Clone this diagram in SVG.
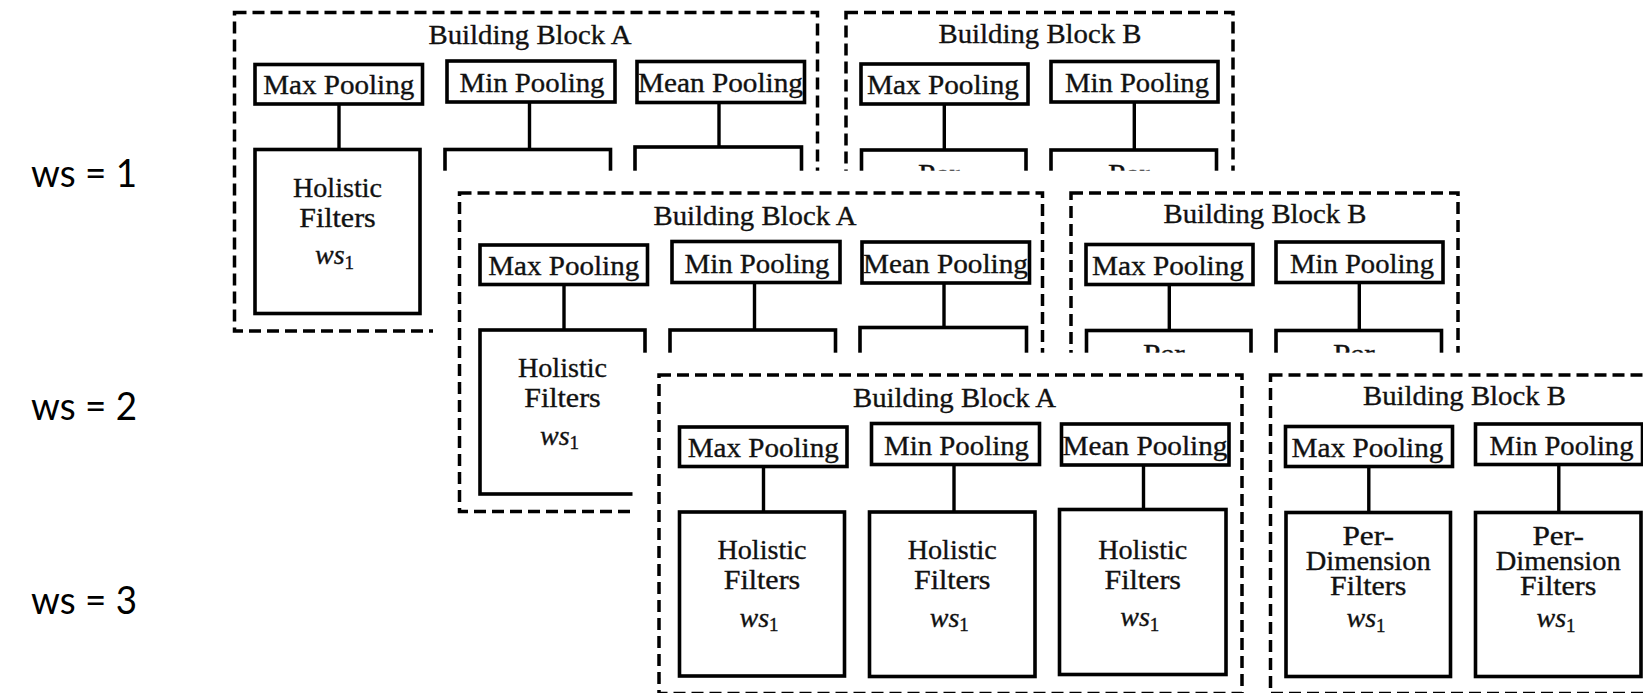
<svg xmlns="http://www.w3.org/2000/svg" width="1643" height="693" viewBox="0 0 1643 693">
  <defs>
    <style>
      .dash{fill:none;stroke:#000;stroke-width:3.5;stroke-dasharray:12 6}
      .box{fill:#fff;stroke:#000;stroke-width:3.6}
      .wire{stroke:#000;stroke-width:3.4}
      .t{font-family:"Liberation Serif","DejaVu Serif",serif;font-size:28px;fill:#111;stroke:#111;stroke-width:0.35;text-anchor:middle}
      .sub{font-size:19px;font-style:normal}
      .it{font-style:italic}
      .lbl{font-family:Lato,"Open Sans","Liberation Sans",sans-serif;font-size:38px;fill:#000}
      .sheet{fill:#fff}
    </style>
  </defs>
  <rect width="1643" height="693" fill="#fff"/>

  <!-- window-size labels -->
  <g id="labels">
    <text class="lbl" x="31" y="187" textLength="106" lengthAdjust="spacingAndGlyphs">ws = 1</text>
    <text class="lbl" x="31" y="420" textLength="106" lengthAdjust="spacingAndGlyphs">ws = 2</text>
    <text class="lbl" x="31" y="614" textLength="106" lengthAdjust="spacingAndGlyphs">ws = 3</text>
  </g>

  <!-- ===== stack for ws = 1 (back) ===== -->
  <g id="ws1">
    <g id="ws1-blockA">
      <rect class="dash" x="234.5" y="12.5" width="583" height="318.5"/>
      <text class="t" x="530" y="44" textLength="203" lengthAdjust="spacingAndGlyphs">Building Block A</text>
    </g>
    <g id="ws1-blockB">
      <rect class="dash" x="846" y="12.5" width="387" height="318.5"/>
      <text class="t" x="1040" y="42.5" textLength="203" lengthAdjust="spacingAndGlyphs">Building Block B</text>
    </g>
    <g id="ws1-links">
      <line class="wire" x1="339" y1="104" x2="339" y2="149.5"/>
      <line class="wire" x1="529.5" y1="101.5" x2="529.5" y2="149.5"/>
      <line class="wire" x1="719" y1="102" x2="719" y2="147"/>
      <line class="wire" x1="944.3" y1="104" x2="944.3" y2="150"/>
      <line class="wire" x1="1134.3" y1="102" x2="1134.3" y2="150"/>
    </g>
    <g id="ws1-a-max"><rect class="box" x="255" y="64.5" width="167.5" height="39.5"/><text class="t" x="338.75" y="94" textLength="151" lengthAdjust="spacingAndGlyphs">Max Pooling</text></g>
    <g id="ws1-a-min"><rect class="box" x="447" y="61" width="168" height="41"/><text class="t" x="532" y="92.3" textLength="145" lengthAdjust="spacingAndGlyphs">Min Pooling</text></g>
    <g id="ws1-a-mean"><rect class="box" x="637" y="61.5" width="167.5" height="41"/><text class="t" x="720.5" y="92.3" textLength="165" lengthAdjust="spacingAndGlyphs">Mean Pooling</text></g>
    <g id="ws1-a-hf1"><rect class="box" x="255" y="149.5" width="165" height="164"/>
      <text class="t" x="337.5" y="196.5" textLength="89" lengthAdjust="spacingAndGlyphs">Holistic</text>
      <text class="t" x="337.5" y="226.5" textLength="76.5" lengthAdjust="spacingAndGlyphs">Filters</text>
      <text class="t" x="334.5" y="264"><tspan class="it">ws</tspan><tspan class="sub" dy="4.5">1</tspan></text></g>
    <g id="ws1-a-hf2"><rect class="box" x="445" y="149.5" width="165.5" height="164.5"/></g>
    <g id="ws1-a-hf3"><rect class="box" x="635" y="147" width="166.5" height="165"/></g>
    <g id="ws1-b-max"><rect class="box" x="861" y="64" width="167" height="40"/><text class="t" x="943" y="94" textLength="152" lengthAdjust="spacingAndGlyphs">Max Pooling</text></g>
    <g id="ws1-b-min"><rect class="box" x="1051" y="61.5" width="167" height="40.5"/><text class="t" x="1137" y="92.3" textLength="144" lengthAdjust="spacingAndGlyphs">Min Pooling</text></g>
    <g id="ws1-b-pd1"><rect class="box" x="861.5" y="150" width="164.5" height="164"/>
      <text class="t" x="943.75" y="182.5" textLength="51.7" lengthAdjust="spacingAndGlyphs">Per-</text></g>
    <g id="ws1-b-pd2"><rect class="box" x="1051" y="150" width="165.5" height="164"/>
      <text class="t" x="1133.75" y="182.5" textLength="51.7" lengthAdjust="spacingAndGlyphs">Per-</text></g>
  </g>

  <!-- ===== stack for ws = 2 (drawn over ws = 1) ===== -->
  <g id="ws2" transform="translate(225,180.5)">
    <rect class="sheet" x="208" y="-9.8" width="1060" height="360"/>
    <g id="ws2-blockA">
      <rect class="dash" x="234.5" y="12.5" width="583" height="318.5"/>
      <text class="t" x="530" y="44" textLength="203" lengthAdjust="spacingAndGlyphs">Building Block A</text>
    </g>
    <g id="ws2-blockB">
      <rect class="dash" x="846" y="12.5" width="387" height="318.5"/>
      <text class="t" x="1040" y="42.5" textLength="203" lengthAdjust="spacingAndGlyphs">Building Block B</text>
    </g>
    <g id="ws2-links">
      <line class="wire" x1="339" y1="104" x2="339" y2="149.5"/>
      <line class="wire" x1="529.5" y1="101.5" x2="529.5" y2="149.5"/>
      <line class="wire" x1="719" y1="102" x2="719" y2="147"/>
      <line class="wire" x1="944.3" y1="104" x2="944.3" y2="150"/>
      <line class="wire" x1="1134.3" y1="102" x2="1134.3" y2="150"/>
    </g>
    <g id="ws2-a-max"><rect class="box" x="255" y="64.5" width="167.5" height="39.5"/><text class="t" x="338.75" y="94" textLength="151" lengthAdjust="spacingAndGlyphs">Max Pooling</text></g>
    <g id="ws2-a-min"><rect class="box" x="447" y="61" width="168" height="41"/><text class="t" x="532" y="92.3" textLength="145" lengthAdjust="spacingAndGlyphs">Min Pooling</text></g>
    <g id="ws2-a-mean"><rect class="box" x="637" y="61.5" width="167.5" height="41"/><text class="t" x="720.5" y="92.3" textLength="165" lengthAdjust="spacingAndGlyphs">Mean Pooling</text></g>
    <g id="ws2-a-hf1"><rect class="box" x="255" y="149.5" width="165" height="164"/>
      <text class="t" x="337.5" y="196.5" textLength="89" lengthAdjust="spacingAndGlyphs">Holistic</text>
      <text class="t" x="337.5" y="226.5" textLength="76.5" lengthAdjust="spacingAndGlyphs">Filters</text>
      <text class="t" x="334.5" y="264"><tspan class="it">ws</tspan><tspan class="sub" dy="4.5">1</tspan></text></g>
    <g id="ws2-a-hf2"><rect class="box" x="445" y="149.5" width="165.5" height="164.5"/></g>
    <g id="ws2-a-hf3"><rect class="box" x="635" y="147" width="166.5" height="165"/></g>
    <g id="ws2-b-max"><rect class="box" x="861" y="64" width="167" height="40"/><text class="t" x="943" y="94" textLength="152" lengthAdjust="spacingAndGlyphs">Max Pooling</text></g>
    <g id="ws2-b-min"><rect class="box" x="1051" y="61.5" width="167" height="40.5"/><text class="t" x="1137" y="92.3" textLength="144" lengthAdjust="spacingAndGlyphs">Min Pooling</text></g>
    <g id="ws2-b-pd1"><rect class="box" x="861.5" y="150" width="164.5" height="164"/>
      <text class="t" x="943.75" y="182.5" textLength="51.7" lengthAdjust="spacingAndGlyphs">Per-</text></g>
    <g id="ws2-b-pd2"><rect class="box" x="1051" y="150" width="165.5" height="164"/>
      <text class="t" x="1133.75" y="182.5" textLength="51.7" lengthAdjust="spacingAndGlyphs">Per-</text></g>
  </g>

  <!-- ===== stack for ws = 3 (front) ===== -->
  <g id="ws3" transform="translate(424.5,362.5)">
    <rect class="sheet" x="208" y="-9.8" width="1060" height="360"/>
    <g id="ws3-blockA">
      <rect class="dash" x="234.5" y="12.5" width="583" height="318.5"/>
      <text class="t" x="530" y="44" textLength="203" lengthAdjust="spacingAndGlyphs">Building Block A</text>
    </g>
    <g id="ws3-blockB">
      <rect class="dash" x="846" y="12.5" width="387" height="318.5"/>
      <text class="t" x="1040" y="42.5" textLength="203" lengthAdjust="spacingAndGlyphs">Building Block B</text>
    </g>
    <g id="ws3-links">
      <line class="wire" x1="339" y1="104" x2="339" y2="149.5"/>
      <line class="wire" x1="529.5" y1="101.5" x2="529.5" y2="149.5"/>
      <line class="wire" x1="719" y1="102" x2="719" y2="147"/>
      <line class="wire" x1="944.3" y1="104" x2="944.3" y2="150"/>
      <line class="wire" x1="1134.3" y1="102" x2="1134.3" y2="150"/>
    </g>
    <g id="ws3-a-max"><rect class="box" x="255" y="64.5" width="167.5" height="39.5"/><text class="t" x="338.75" y="94" textLength="151" lengthAdjust="spacingAndGlyphs">Max Pooling</text></g>
    <g id="ws3-a-min"><rect class="box" x="447" y="61" width="168" height="41"/><text class="t" x="532" y="92.3" textLength="145" lengthAdjust="spacingAndGlyphs">Min Pooling</text></g>
    <g id="ws3-a-mean"><rect class="box" x="637" y="61.5" width="167.5" height="41"/><text class="t" x="720.5" y="92.3" textLength="165" lengthAdjust="spacingAndGlyphs">Mean Pooling</text></g>
    <g id="ws3-a-hf1"><rect class="box" x="255" y="149.5" width="165" height="164"/>
      <text class="t" x="337.5" y="196.5" textLength="89" lengthAdjust="spacingAndGlyphs">Holistic</text>
      <text class="t" x="337.5" y="226.5" textLength="76.5" lengthAdjust="spacingAndGlyphs">Filters</text>
      <text class="t" x="334.5" y="264"><tspan class="it">ws</tspan><tspan class="sub" dy="4.5">1</tspan></text></g>
    <g id="ws3-a-hf2"><rect class="box" x="445" y="149.5" width="165.5" height="164.5"/>
      <text class="t" x="527.75" y="196.5" textLength="89" lengthAdjust="spacingAndGlyphs">Holistic</text>
      <text class="t" x="527.75" y="226.5" textLength="76.5" lengthAdjust="spacingAndGlyphs">Filters</text>
      <text class="t" x="524.75" y="264"><tspan class="it">ws</tspan><tspan class="sub" dy="4.5">1</tspan></text></g>
    <g id="ws3-a-hf3"><rect class="box" x="635" y="147" width="166.5" height="165"/>
      <text class="t" x="718.25" y="196" textLength="89" lengthAdjust="spacingAndGlyphs">Holistic</text>
      <text class="t" x="718.25" y="226" textLength="76.5" lengthAdjust="spacingAndGlyphs">Filters</text>
      <text class="t" x="715.25" y="263.5"><tspan class="it">ws</tspan><tspan class="sub" dy="4.5">1</tspan></text></g>
    <g id="ws3-b-max"><rect class="box" x="861" y="64" width="167" height="40"/><text class="t" x="943" y="94" textLength="152" lengthAdjust="spacingAndGlyphs">Max Pooling</text></g>
    <g id="ws3-b-min"><rect class="box" x="1051" y="61.5" width="167" height="40.5"/><text class="t" x="1137" y="92.3" textLength="144" lengthAdjust="spacingAndGlyphs">Min Pooling</text></g>
    <g id="ws3-b-pd1"><rect class="box" x="861.5" y="150" width="164.5" height="164"/>
      <text class="t" x="943.75" y="182.5" textLength="51.7" lengthAdjust="spacingAndGlyphs">Per-</text>
      <text class="t" x="943.75" y="207" textLength="125" lengthAdjust="spacingAndGlyphs">Dimension</text>
      <text class="t" x="943.75" y="232.5" textLength="76.3" lengthAdjust="spacingAndGlyphs">Filters</text>
      <text class="t" x="941.5" y="264.5"><tspan class="it">ws</tspan><tspan class="sub" dy="4.5">1</tspan></text></g>
    <g id="ws3-b-pd2"><rect class="box" x="1051" y="150" width="165.5" height="164"/>
      <text class="t" x="1133.75" y="182.5" textLength="51.7" lengthAdjust="spacingAndGlyphs">Per-</text>
      <text class="t" x="1133.75" y="207" textLength="125" lengthAdjust="spacingAndGlyphs">Dimension</text>
      <text class="t" x="1133.75" y="232.5" textLength="76.3" lengthAdjust="spacingAndGlyphs">Filters</text>
      <text class="t" x="1131.5" y="264.5"><tspan class="it">ws</tspan><tspan class="sub" dy="4.5">1</tspan></text></g>
  </g>
</svg>
